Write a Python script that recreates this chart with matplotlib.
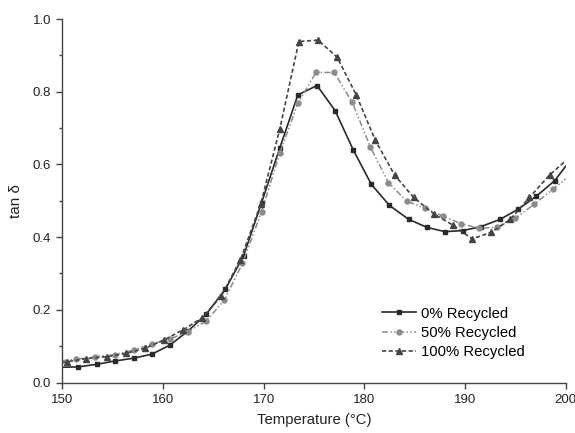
import matplotlib
matplotlib.use("Agg")
import matplotlib.pyplot as plt
from matplotlib.ticker import MultipleLocator

plt.rcParams["font.family"] = ["Liberation Sans", "DejaVu Sans"]

# 0% recycled (squares)
t_0 = [150.0, 151.6, 153.4, 155.2, 157.1, 158.9, 160.7, 162.5, 164.3, 166.2, 168.0,
       169.8, 171.6, 173.4, 175.3, 177.1, 178.9, 180.7, 182.5, 184.4, 186.2,
       188.0, 189.8, 191.6, 193.5, 195.3, 197.1, 198.9, 200.0]
v_0 = [0.042, 0.043, 0.050, 0.059, 0.067, 0.078, 0.103, 0.142, 0.188, 0.257, 0.348,
       0.495, 0.645, 0.791, 0.817, 0.748, 0.640, 0.545, 0.487, 0.449, 0.427,
       0.415, 0.418, 0.429, 0.449, 0.477, 0.513, 0.555, 0.595]

# 50% recycled (circles)
t_50 = [150.0, 151.4, 153.3, 155.2, 157.1, 158.9, 160.7, 162.5, 164.3, 166.1, 167.9,
        169.8, 171.6, 173.4, 175.2, 177.0, 178.8, 180.6, 182.4, 184.2, 186.0,
        187.8, 189.6, 191.4, 193.2, 195.0, 196.9, 198.7, 200.0]
v_50 = [0.060, 0.064, 0.071, 0.077, 0.089, 0.106, 0.120, 0.140, 0.169, 0.227, 0.328,
        0.470, 0.631, 0.768, 0.853, 0.853, 0.771, 0.648, 0.550, 0.499, 0.480,
        0.458, 0.437, 0.424, 0.427, 0.452, 0.491, 0.531, 0.560]

# 100% recycled (triangles)
t_100 = [150.0, 150.5, 152.4, 154.4, 156.3, 158.2, 160.1, 162.0, 163.9, 165.8, 167.7,
         169.7, 171.6, 173.5, 175.4, 177.3, 179.2, 181.1, 183.0, 184.9, 186.9,
         188.8, 190.7, 192.6, 194.5, 196.4, 198.4, 200.0]
v_100 = [0.055, 0.057, 0.066, 0.071, 0.080, 0.094, 0.117, 0.145, 0.178, 0.238, 0.338,
         0.490, 0.697, 0.938, 0.942, 0.895, 0.791, 0.666, 0.571, 0.509, 0.464,
         0.433, 0.395, 0.413, 0.449, 0.509, 0.571, 0.610]

labels = ["0% Recycled", "50% Recycled", "100% Recycled"]

fig = plt.figure(figsize=(5.75, 4.33), dpi=100)
ax = fig.add_axes([0.1083, 0.1166, 0.8755, 0.8395])

ax.plot(t_0, v_0, color="#2a2a2a", lw=1.2, ls="-", marker="s", ms=3.2,
        markevery=list(range(1, len(t_0) - 1)), label=labels[0])
ax.plot(t_50, v_50, color="#8c8c8c", lw=1.1, ls=(0, (4, 1.5, 1, 1.5, 1, 1.5)),
        marker="o", ms=3.6, markevery=list(range(1, len(t_50) - 1)), label=labels[1])
ax.plot(t_100, v_100, color="#444444", lw=1.2, ls=(0, (2.5, 1.5)), marker="^", ms=3.8,
        markevery=list(range(1, len(t_100) - 1)), label=labels[2])

ax.set_xlim(150, 200)
ax.set_ylim(0, 1.0)
ax.xaxis.set_major_locator(MultipleLocator(10))
ax.yaxis.set_major_locator(MultipleLocator(0.2))
ax.yaxis.set_minor_locator(MultipleLocator(0.1))
ax.yaxis.set_major_formatter(plt.FormatStrFormatter("%.1f"))

for side in ["top", "right"]:
    ax.spines[side].set_visible(False)
for side in ["left", "bottom"]:
    ax.spines[side].set_color("#444444")
    ax.spines[side].set_linewidth(1.0)

ax.tick_params(which="major", direction="out", length=4.5, width=1.0,
               color="#444444", labelsize=9.5, labelcolor="#222222")
ax.tick_params(which="minor", direction="out", length=2.5, width=1.0, color="#444444")

ax.set_xlabel("Temperature (°C)", fontsize=10.7, color="#222222", labelpad=5)
ax.set_ylabel("tan δ", fontsize=11, color="#222222", labelpad=7)

ax.legend(loc="center left", bbox_to_anchor=(0.641, 0.231),
          bbox_transform=fig.transFigure, frameon=False,
          fontsize=10.7, handlelength=2.3, handletextpad=0.3, labelspacing=0.36)

fig.savefig("out.png", dpi=100)
